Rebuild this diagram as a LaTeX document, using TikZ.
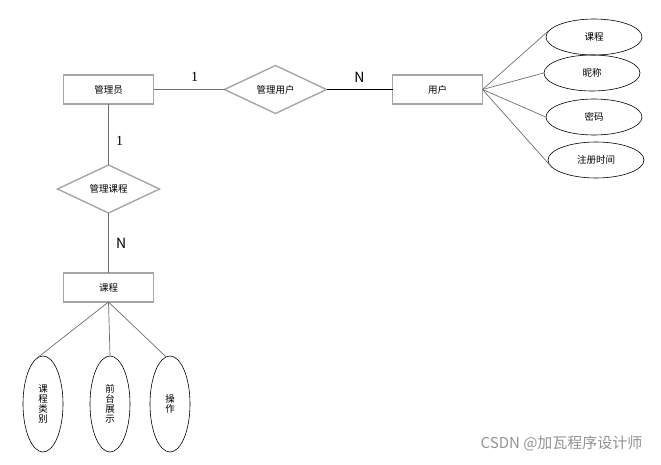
\documentclass[tikz,border=0pt]{standalone}
\usepackage{fontspec}
\setmainfont{Noto Sans CJK SC}
\newfontfamily\numfont{Liberation Serif}
\usepackage{tikz}
\usetikzlibrary{positioning,shapes.geometric}
\usepackage{xcolor}
\definecolor{boxgray}{HTML}{A6A6A6}
\definecolor{linegray}{HTML}{6E6E6E}

\begin{document}
\begin{tikzpicture}[x=1pt, y=-1pt, every node/.style={font=\fontsize{9.5}{11}\selectfont},
    entity/.style={draw=boxgray, line width=1.6pt, minimum width=90pt, minimum height=29pt, inner sep=0pt, outer sep=0pt},
    relation/.style={draw=boxgray, line width=1.4pt, diamond, aspect=2, minimum width=102pt, minimum height=48pt, inner sep=0pt, outer sep=0pt},
    attrib/.style={draw, line width=0.6pt, ellipse, minimum width=96pt, minimum height=36pt, inner sep=0pt},
    vattrib/.style={draw, line width=0.6pt, ellipse, minimum width=40pt, minimum height=96pt, inner sep=0pt, align=center, font=\fontsize{9.5}{10}\selectfont},
    link/.style={draw=linegray, line width=0.7pt},
    card/.style={font=\fontsize{14}{16}\selectfont}]
    \useasboundingbox (0,0) rectangle (661,465);

    \node[entity] (admin) at (108.5,89.5) {管理员};
    \node[relation, right=71pt of admin] (mgruser) {管理用户};
    \node[entity, right=66pt of mgruser] (user) {用户};
    \node[relation, below=61pt of admin] (mgrcourse) {管理课程};
    \node[entity, below=60pt of mgrcourse] (course) {课程};

    % user attributes
    \node[attrib] (ucourse) at (594,37) {课程};
    \node[attrib] (nick) at (592,73) {昵称};
    \node[attrib] (pwd) at (594,117) {密码};
    \node[attrib] (regtime) at (596,160) {注册时间};

    % course attributes
    \node[vattrib] (ctype) at (43,404) {课\\程\\类\\别};
    \node[vattrib] (cshow) at (110,404) {前\\台\\展\\示};
    \node[vattrib] (cop) at (170,404) {操\\作};

    \draw[link] (admin) -- node[card, pos=0.58, above=4pt]{\numfont 1} (mgruser);
    \draw[link, black] (mgruser) -- node[card, above=3pt]{N} (user);
    \draw[link] (admin) -- node[card, pos=0.6, right=4pt]{\numfont 1} (mgrcourse);
    \draw[link] (mgrcourse) -- node[card, right=4pt]{N} (course);

    \draw[link] (user.east) -- (ucourse.172);
    \draw[link] (user.east) -- (nick.west);
    \draw[link] (user.east) -- (pwd.west);
    \draw[link] (user.east) -- (regtime.190);

    \draw[link] (course.south) -- (ctype.100);
    \draw[link] (course.south) -- (cshow.north);
    \draw[link] (course.south) -- (cop.95);

    \node[text=gray!85, font=\fontsize{15}{17}\selectfont, anchor=east] (mark) at (646,443) {CSDN @加瓦程序设计师};
\end{tikzpicture}
\end{document}
